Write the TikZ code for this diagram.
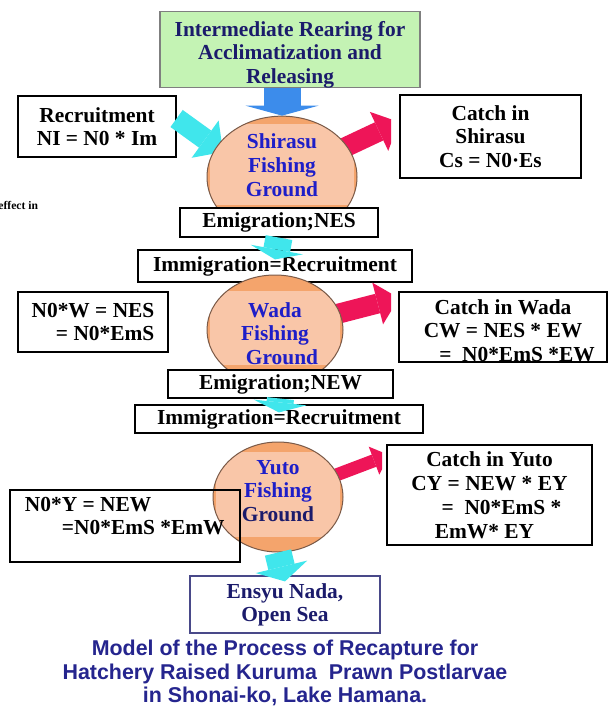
\documentclass[tikz,border=0pt]{standalone}
\usepackage{fontspec}
\setmainfont{Liberation Serif}
\newfontfamily\capfont{Liberation Sans}
\usetikzlibrary{positioning,shapes.geometric,arrows.meta}

\definecolor{rearfill}{HTML}{C4F3B4}
\definecolor{rearline}{HTML}{7F7F7F}
\definecolor{navytext}{HTML}{1B1B6B}
\definecolor{groundtext}{HTML}{1E1EC8}
\definecolor{groundline}{HTML}{7A5A48}
\definecolor{peachdark}{HTML}{F4A46C}
\definecolor{peachlight}{HTML}{F9C6A8}
\definecolor{relblue}{HTML}{3C8CEB}
\definecolor{flowcyan}{HTML}{40E6EC}
\definecolor{catchred}{HTML}{EE1558}
\definecolor{capblue}{HTML}{25258E}

\tikzset{
  box/.style={draw, fill=white, line width=0.6pt, inner sep=0pt, align=center,
    font=\fontsize{10.7}{11.6}\selectfont\bfseries},
  ground/.style n args={4}{ellipse, draw=groundline, line width=0.5pt, fill=peachdark,
    minimum width=#1, minimum height=#2, inner sep=0pt, align=center, text=groundtext,
    font=\fontsize{10.7}{11.8}\selectfont\bfseries,
    path picture={\fill[peachlight] ([xshift=1.5pt,yshift=-#3]path picture bounding box.north west)
      rectangle ([xshift=-1.5pt,yshift=#4]path picture bounding box.south east);}},
  fatarrow/.style n args={4}{draw=#1, line width=#2,
    -{Triangle[width=#3, length=#4, line width=0pt]}}
}

\begin{document}
\begin{tikzpicture}[x=0.5pt, y=-0.5pt]
  \useasboundingbox (0,0) rectangle (609,707);
  \fill[white] (0,0) rectangle (609,707);

  % centres of the fishing grounds and ends of the catch arrows
  \coordinate (cS) at (282,177);
  \coordinate (cW) at (275,330);
  \coordinate (cY) at (278,497);
  \coordinate (tipS) at (399,122);
  \coordinate (tipW) at (399,298);
  \coordinate (tipY) at (389,455);
  \coordinate (tipR) at (223,152);

  % boxes
  \node[box, fill=rearfill, draw=rearline, text=navytext, minimum width=130pt, minimum height=37.5pt,
    text height=36pt] (rear) at (290,49.5) {Intermediate Rearing for\\Acclimatization and\\Releasing};
  \node[box, minimum width=79pt, minimum height=30.5pt] (rec) at (97,126.5) {Recruitment\\NI = N0 * Im};
  \node[box, minimum width=90.5pt, minimum height=41.5pt] (catS) at (490.5,136.5)
    {Catch in\\Shirasu\\Cs = N0·Es};
  \node[box, minimum width=137pt, minimum height=16pt] (immS) at (275,266) {Immigration=Recruitment};
  \node[box, minimum width=75pt, minimum height=30pt, align=right] (n0w) at (93,322)
    {N0*W = NES\\= N0*EmS};
  \node[box, minimum width=104pt, minimum height=35pt, text height=34.3pt] (catW) at (503,327)
    {Catch in Wada\\CW = NES * EW\\\hspace*{14pt}=\ \ N0*EmS *EW};
  \node[box, minimum width=144pt, minimum height=14pt] (immW) at (279,419) {Immigration=Recruitment};
  \node[box, minimum width=102.5pt, minimum height=50pt, font=\fontsize{10.7}{12}\selectfont\bfseries]
    (catY) at (489.5,495) {Catch in Yuto\\CY = NEW * EY\\\hspace*{12pt}=\ \ N0*EmS *\\EmW* EY\hspace*{5pt}};
  \node[box, draw=navytext!80, text=navytext, minimum width=95pt, minimum height=28.5pt]
    (sea) at (285,604.5) {Ensyu Nada,\\Open Sea};

  % catch arrows, cut before the boxes
  \begin{scope}
    \clip (0,0) rectangle (391,707);
    \draw[fatarrow={catchred}{10pt}{21.5pt}{11pt}] (cS) -- (tipS);
    \draw[fatarrow={catchred}{10pt}{21.5pt}{11pt}] (cW) -- (tipW);
  \end{scope}
  \begin{scope}
    \clip (0,0) rectangle (382,707);
    \draw[fatarrow={catchred}{6.5pt}{15pt}{8pt}] (cY) -- (tipY);
  \end{scope}
  \draw[fatarrow={flowcyan}{10.5pt}{23pt}{11pt}] ([yshift=4pt]rec.east) -- (tipR);

  % fishing grounds
  \node[ground={75pt}{60pt}{4pt}{16.5pt}, text depth=12pt] (shi) at (cS) {Shirasu\\Fishing\\Ground};
  \node[ground={68pt}{55pt}{8pt}{10pt}, text height=34.5pt] (wad) at (cW) {Wada\\Fishing\\\hspace*{7pt}Ground};
  \node[ground={65pt}{55pt}{5pt}{7.5pt}, text depth=6.3pt] (yut) at (cY) {Yuto\\Fishing\\\textcolor{navytext}{Ground}};

  \node[box, minimum width=99pt, minimum height=14.5pt] (emigS) at (279,222.5) {Emigration;NES};
  \node[box, minimum width=112.5pt, minimum height=14pt] (emigW) at (280.5,384) {Emigration;NEW};
  \node[box, fill=none, minimum width=115pt, minimum height=36pt] (n0y) at (125,526) {};
  \node[box, draw=none, fill=none, anchor=north west, align=left] (n0ytext)
    at ([xshift=7.5pt,yshift=-3.5pt]n0y.north west) {N0*Y = NEW\\\hspace*{18.5pt}=N0*EmS *EmW};

  % flow arrows
  \draw[fatarrow={relblue}{18.5pt}{36.5pt}{5pt}] (rear.south -| shi.north) -- (shi.north);
  \draw[fatarrow={flowcyan}{13.5pt}{26.5pt}{5pt}] (emigS.south) -- ([yshift=-5pt]immS.north);
  \draw[fatarrow={flowcyan}{13.5pt}{26.5pt}{5pt}] (emigW.south) -- ([yshift=-4pt]immW.north);
  \draw[fatarrow={flowcyan}{13.5pt}{26.5pt}{7.5pt}] (yut.south) -- ([yshift=-3pt]sea.north);

  \node[anchor=west, inner sep=0pt, font=\fontsize{5.8}{6}\selectfont\bfseries] (frag) at (-2,205) {effect in};

  % caption
  \node[align=center, inner sep=0pt, text=capblue, font=\capfont\fontsize{10.7}{11.9}\selectfont\bfseries]
    (cap) at (285,673) {Model of the Process of Recapture for\\Hatchery Raised Kuruma\ \ Prawn Postlarvae\\in Shonai-ko, Lake Hamana.};
\end{tikzpicture}
\end{document}
